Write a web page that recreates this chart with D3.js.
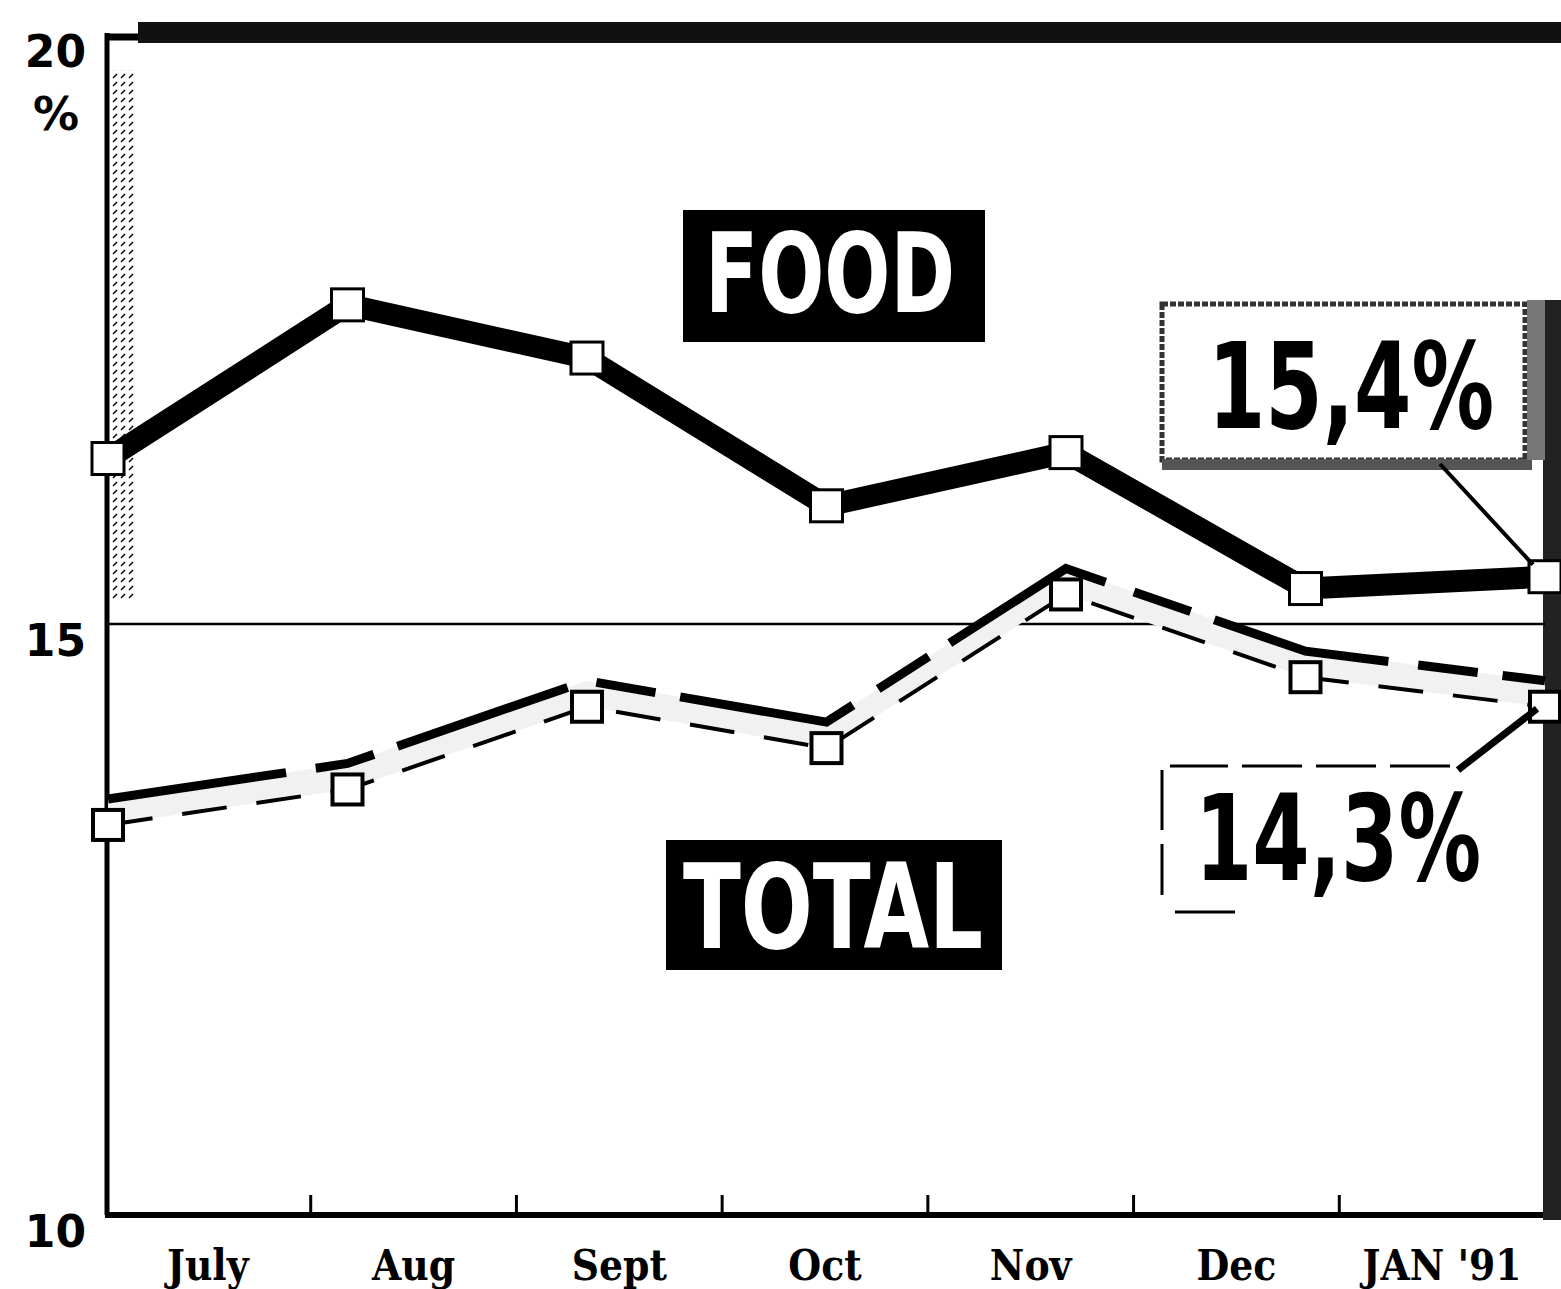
<!DOCTYPE html>
<html>
<head>
<meta charset="utf-8">
<script src="https://cdn.jsdelivr.net/npm/d3@7"></script>
<style>
  body { margin: 0; background: #fff; }
  svg { display: block; }
</style>
</head>
<body>
<svg width="1561" height="1289"></svg>
<script>
// inflation, year on year, July 1990 - Jan 1991
var periods = ["Jul", "Aug", "Sep", "Oct", "Nov", "Dec", "Jan"];
var food = [16.4, 17.7, 17.25, 16.0, 16.45, 15.3, 15.4];
var total = [13.3, 13.6, 14.3, 13.95, 15.25, 14.55, 14.3];
var months = ["July", "Aug", "Sept", "Oct", "Nov", "Dec", "JAN '91"];
var yTicks = [10, 15, 20];

var svg = d3.select("svg");

var x = d3.scalePoint().domain(periods).range([108, 1545]);
var xb = d3.scaleBand().domain(months).range([105, 1545]);
var y = d3.scaleLinear().domain([10, 20]).range([1215, 33]);

// speckle pattern for the halftone bits of the scan
var pat = svg.append("defs").append("pattern").attr("id", "speckle")
  .attr("width", 8).attr("height", 8).attr("patternUnits", "userSpaceOnUse");
pat.append("rect").attr("width", 8).attr("height", 8).attr("fill", "#fff");
pat.append("path").attr("d", "M1,6 L5,2").attr("stroke", "#000").attr("stroke-width", 1.5);

// frame
svg.append("line").attr("x1", 107).attr("x2", 107).attr("y1", y(20)).attr("y2", y(10))
  .attr("stroke", "#000").attr("stroke-width", 5);
svg.append("line").attr("x1", 105).attr("x2", 140).attr("y1", 37).attr("y2", 37)
  .attr("stroke", "#000").attr("stroke-width", 7);
svg.append("rect").attr("x", 138).attr("y", 22).attr("width", 1423).attr("height", 21).attr("fill", "#111");
svg.append("line").attr("x1", 105).attr("x2", 1545).attr("y1", y(10)).attr("y2", y(10))
  .attr("stroke", "#000").attr("stroke-width", 6);
svg.append("rect").attr("x", 1543).attr("y", 300).attr("width", 18).attr("height", 920).attr("fill", "#222");
svg.append("rect").attr("x", 111).attr("y", 70).attr("width", 24).attr("height", 530).attr("fill", "url(#speckle)");

// 15 reference line
svg.append("line").attr("x1", 107).attr("x2", 1545).attr("y1", y(15)).attr("y2", y(15))
  .attr("stroke", "#000").attr("stroke-width", 2.5);

// month boundary ticks
svg.append("g").selectAll("line").data(months.slice(1)).join("line")
  .attr("x1", function(d) { return xb(d); }).attr("x2", function(d) { return xb(d); })
  .attr("y1", y(10)).attr("y2", y(10) - 20)
  .attr("stroke", "#000").attr("stroke-width", 3);

// y labels hang below their value
svg.append("g").selectAll("text").data(yTicks).join("text")
  .attr("x", 86).attr("y", function(d) { return y(d) + (d == 20 ? 34 : 32); })
  .attr("text-anchor", "end")
  .attr("font-family", "DejaVu Sans").attr("font-weight", "bold").attr("font-size", 44)
  .text(function(d) { return d; });
svg.append("text").attr("x", 56).attr("y", 130).attr("text-anchor", "middle")
  .attr("font-family", "DejaVu Sans").attr("font-weight", "bold").attr("font-size", 46)
  .text("%");

// month labels
svg.append("g").selectAll("text").data(months).join("text")
  .attr("x", function(d) { return xb(d) + xb.bandwidth() / 2; })
  .attr("y", 1280)
  .attr("text-anchor", "middle")
  .attr("font-family", "DejaVu Serif Condensed, DejaVu Serif").attr("font-weight", "bold")
  .attr("font-size", 42)
  .text(function(d) { return d; });

// TOTAL ribbon: value edge dashed, raised edge solid
var lineT = d3.line().x(function(d, i) { return x(periods[i]); }).y(function(d) { return y(d); });
var raise = 26;
svg.append("path").datum(total)
  .attr("d", d3.area().x(function(d, i) { return x(periods[i]); })
    .y0(function(d) { return y(d); }).y1(function(d) { return y(d) - raise; }))
  .attr("fill", "#f1f1f1");
svg.append("path").datum(total).attr("d", lineT)
  .attr("transform", "translate(0," + (-raise) + ")")
  .attr("fill", "none").attr("stroke", "#000").attr("stroke-width", 9)
  .attr("stroke-dasharray", "180,30,60,25");
svg.append("path").datum(total).attr("d", lineT)
  .attr("fill", "none").attr("stroke", "#000").attr("stroke-width", 4)
  .attr("stroke-dasharray", "45,30");
svg.append("g").selectAll("rect").data(total).join("rect")
  .attr("x", function(d, i) { return x(periods[i]) - 15; })
  .attr("y", function(d) { return y(d) - 15; })
  .attr("width", 30).attr("height", 30)
  .attr("fill", "#fff").attr("stroke", "#000").attr("stroke-width", 4);

// FOOD line
svg.append("path").datum(food)
  .attr("d", d3.line().x(function(d, i) { return x(periods[i]); }).y(function(d) { return y(d); }))
  .attr("fill", "none").attr("stroke", "#000").attr("stroke-width", 22)
  .attr("stroke-linejoin", "round");
svg.append("g").selectAll("rect").data(food).join("rect")
  .attr("x", function(d, i) { return x(periods[i]) - 16; })
  .attr("y", function(d) { return y(d) - 16; })
  .attr("width", 32).attr("height", 32)
  .attr("fill", "#fff").attr("stroke", "#000").attr("stroke-width", 3);

// series name boxes
function nameBox(label, bx, by, bw, bh, tx, ty, tw, fs) {
  svg.append("rect").attr("x", bx).attr("y", by).attr("width", bw).attr("height", bh).attr("fill", "#000");
  svg.append("text").attr("x", tx).attr("y", ty)
    .attr("font-family", "DejaVu Sans Condensed, DejaVu Sans").attr("font-weight", "bold")
    .attr("font-size", fs).attr("fill", "#fff")
    .attr("textLength", tw).attr("lengthAdjust", "spacingAndGlyphs")
    .text(label);
}
nameBox("FOOD", 683, 210, 302, 132, 705, 312, 250, 110);
nameBox("TOTAL", 666, 840, 336, 130, 683, 948, 300, 118);

// tall condensed value figures
function bigValue(label, tx, ty) {
  svg.append("g").attr("transform", "translate(" + tx + "," + ty + ") scale(1,1.28)")
    .append("text")
    .attr("font-family", "DejaVu Sans Condensed, DejaVu Sans").attr("font-weight", "bold")
    .attr("font-size", 93).attr("textLength", 286).attr("lengthAdjust", "spacingAndGlyphs")
    .text(label);
}

// end value call-outs
var last = periods.length - 1;
svg.append("rect").attr("x", 1162).attr("y", 304).attr("width", 363).attr("height", 156)
  .attr("fill", "none").attr("stroke", "#333").attr("stroke-width", 5).attr("stroke-dasharray", "6,2");
svg.append("rect").attr("x", 1162).attr("y", 459).attr("width", 370).attr("height", 11).attr("fill", "#555");
svg.append("rect").attr("x", 1527).attr("y", 300).attr("width", 18).attr("height", 160).attr("fill", "#777");
svg.append("line").attr("x1", 1440).attr("y1", 464)
  .attr("x2", x(periods[last]) - 12).attr("y2", y(food[last]) - 12)
  .attr("stroke", "#000").attr("stroke-width", 4);
bigValue("15,4%", 1208, 428);

svg.append("path").attr("d", "M1450,766 H1170 M1162,770 V895 M1175,912 H1235")
  .attr("fill", "none").attr("stroke", "#000").attr("stroke-width", 3).attr("stroke-dasharray", "60,14");
svg.append("line").attr("x1", 1458).attr("y1", 770)
  .attr("x2", x(periods[last]) - 8).attr("y2", y(total[last]) + 2)
  .attr("stroke", "#000").attr("stroke-width", 7);
bigValue("14,3%", 1195, 880);
</script>
</body>
</html>
